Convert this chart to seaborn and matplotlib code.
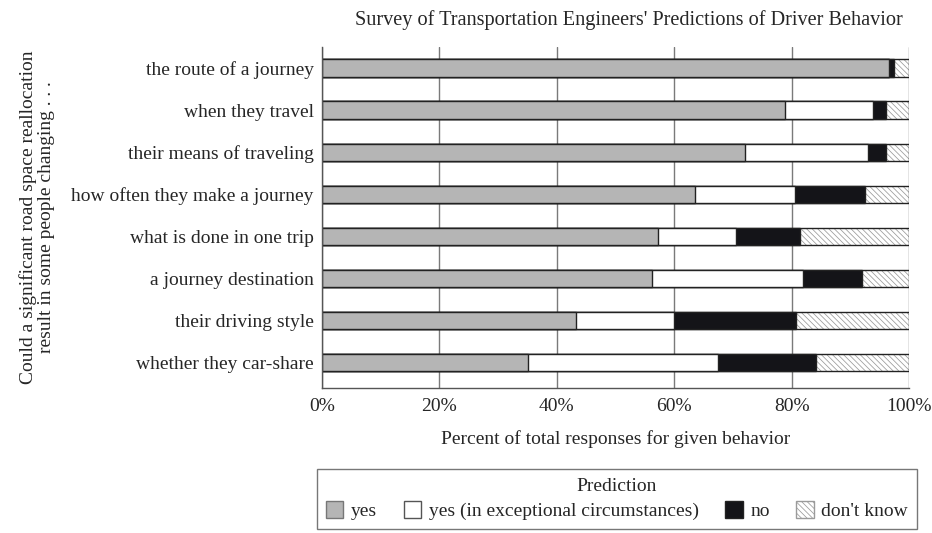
import matplotlib

matplotlib.use("Agg")
import matplotlib.pyplot as plt
import pandas as pd
import seaborn as sns
from matplotlib.patches import Patch

BEHAVIORS = [
    "the route of a journey",
    "when they travel",
    "their means of traveling",
    "how often they make a journey",
    "what is done in one trip",
    "a journey destination",
    "their driving style",
    "whether they car-share",
]
YES = [96.5, 78.8, 72.0, 63.6, 57.3, 56.2, 43.3, 35.0]
YES_EXCEPTIONAL = [0.0, 15.0, 21.0, 17.0, 13.2, 25.7, 16.6, 32.4]
NO = [0.9, 2.3, 3.1, 11.9, 10.9, 10.0, 20.9, 16.8]
DONT_KNOW = [2.6, 3.9, 3.9, 7.5, 18.6, 8.1, 19.2, 15.8]

LABELS = ["yes", "yes (in exceptional circumstances)", "no", "don't know"]
COLORS = ["#b5b5b5", "#ffffff", "#141418", "#ffffff"]
HATCH = "\\\\\\\\\\\\"
HATCH_COLOR = "#9a9a9a"

sns.set_theme(style="white")
plt.rcParams["font.family"] = ["Liberation Serif", "DejaVu Serif"]
plt.rcParams["hatch.linewidth"] = 0.55
plt.rcParams["hatch.color"] = HATCH_COLOR

df = pd.DataFrame(
    {"behavior": BEHAVIORS, "yes": YES, "exc": YES_EXCEPTIONAL, "no": NO, "dk": DONT_KNOW}
)
cum = df[["yes", "exc", "no", "dk"]].cumsum(axis=1)

fig = plt.figure(figsize=(9.32, 5.33), dpi=100)
ax = fig.add_axes([0.3455, 0.272, 0.63, 0.64])

# cumulative layers drawn back to front
order = ["yes", "exc", "no", "dk"]
for col in ["dk", "no", "exc", "yes"]:
    i = order.index(col)
    frame = pd.DataFrame({"behavior": BEHAVIORS, "value": cum[col].values})
    sns.barplot(
        data=frame, x="value", y="behavior", orient="h", color=COLORS[i],
        width=0.41, edgecolor="#222222", linewidth=1.0, ax=ax, saturation=1,
    )
    if col == "dk":
        for bar in ax.patches:
            bar.set_hatch(HATCH)
            bar._hatch_color = matplotlib.colors.to_rgba(HATCH_COLOR)

ax.set_xlim(0, 100)
ax.set_ylim(7.6, -0.5)
ax.set_xticks([0, 20, 40, 60, 80, 100])
ax.set_xticklabels([f"{v}%" for v in [0, 20, 40, 60, 80, 100]], fontsize=14)
ax.tick_params(axis="y", labelsize=14, length=0, pad=6)
ax.tick_params(axis="x", length=0, pad=7)
ax.xaxis.grid(True, color="#7a7a7a", linewidth=1.0)
ax.set_axisbelow(True)
for side in ["top", "right"]:
    ax.spines[side].set_visible(False)
for side in ["left", "bottom"]:
    ax.spines[side].set_color("#555555")
    ax.spines[side].set_linewidth(1.0)

ax.set_ylabel("")
ax.set_xlabel("Percent of total responses for given behavior", fontsize=14, labelpad=11)
fig.text(
    0.04, 0.592, "Could a significant road space reallocation\nresult in some people changing . . .",
    rotation=90, ha="center", va="center", fontsize=14, linespacing=1.05,
)
fig.text(0.675, 0.963, "Survey of Transportation Engineers' Predictions of Driver Behavior",
         ha="center", va="center", fontsize=14.6)

handles = [
    Patch(facecolor=COLORS[0], edgecolor="#777777"),
    Patch(facecolor=COLORS[1], edgecolor="#555555"),
    Patch(facecolor=COLORS[2], edgecolor="#222222"),
    Patch(facecolor=COLORS[3], edgecolor=HATCH_COLOR, hatch=HATCH),
]
leg = fig.legend(
    handles, LABELS, title="Prediction", ncol=4, loc="center",
    bbox_to_anchor=(0.662, 0.064), fontsize=14, title_fontsize=14,
    frameon=True, fancybox=False, edgecolor="#555555",
    handlelength=0.9, handleheight=1.0, columnspacing=1.35, handletextpad=0.4,
    borderpad=0.45, labelspacing=0.3,
)
leg.get_frame().set_linewidth(1.0)

fig.savefig("out.png", dpi=100)
